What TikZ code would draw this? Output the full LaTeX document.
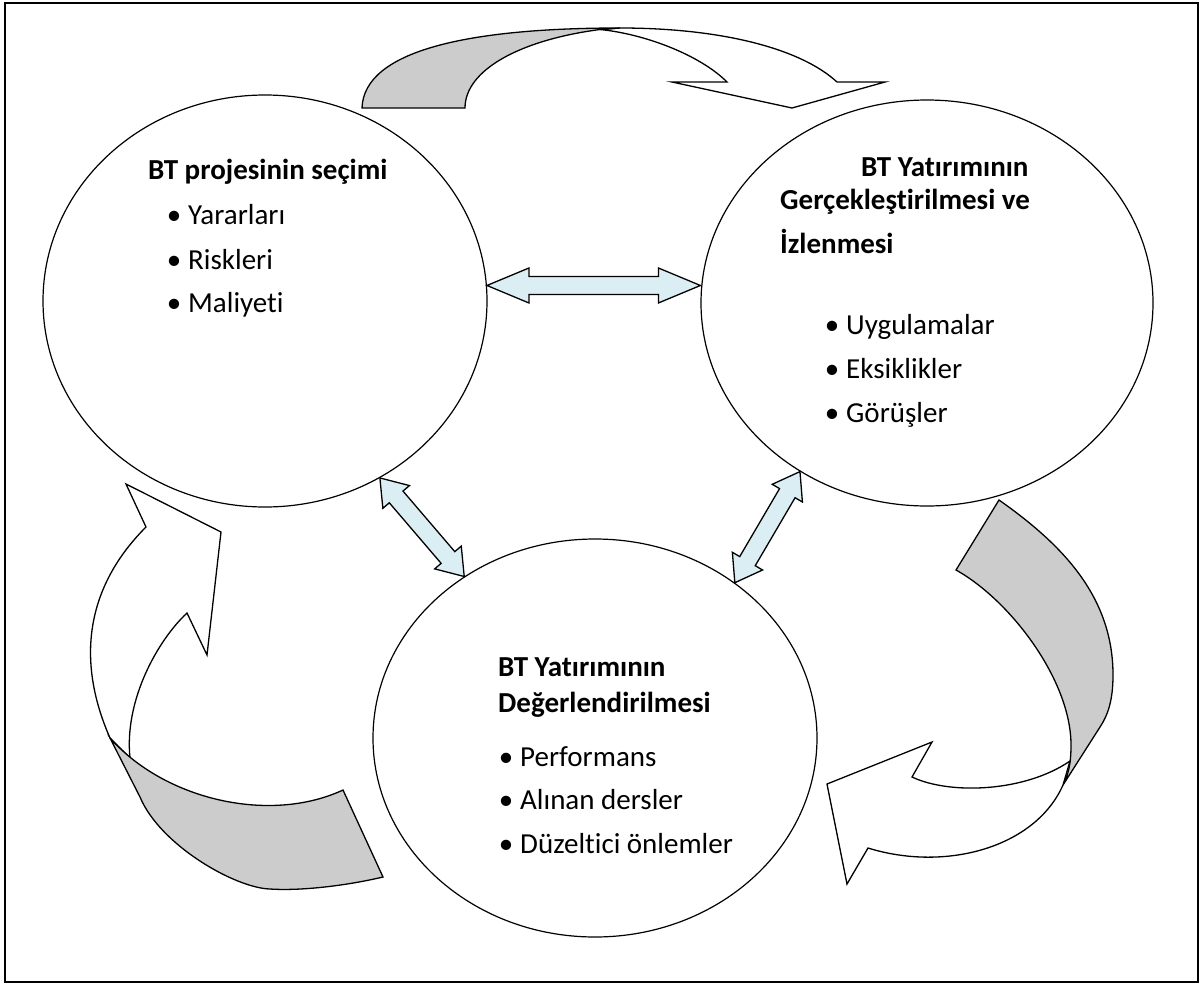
\documentclass[tikz,border=0pt]{standalone}
\usepackage{fontspec}
\setmainfont{Carlito}[Ligatures=NoCommon]
\usetikzlibrary{calc,shapes.geometric}
\definecolor{bandgray}{HTML}{CCCCCC}
\definecolor{linkblue}{HTML}{DAEEF3}

\newcommand{\bul}{\llap{\textbullet\hspace{7pt}}}

% two-headed block arrow between two named points: #1, #2 ends, #3 head length
\newcommand{\twoway}[3]{%
  \coordinate (tw-a) at (#1);
  \coordinate (tw-b) at (#2);
  \coordinate (tw-ha) at ($(tw-a)!#3!(tw-b)$);
  \coordinate (tw-hb) at ($(tw-b)!#3!(tw-a)$);
  \filldraw[linkarrow] (tw-a)
    -- ($(tw-ha)!17.5pt!90:(tw-b)$) -- ($(tw-ha)!9pt!90:(tw-b)$)
    -- ($(tw-hb)!9pt!-90:(tw-a)$) -- ($(tw-hb)!17.5pt!-90:(tw-a)$)
    -- (tw-b)
    -- ($(tw-hb)!17.5pt!90:(tw-a)$) -- ($(tw-hb)!9pt!90:(tw-a)$)
    -- ($(tw-ha)!9pt!-90:(tw-b)$) -- ($(tw-ha)!17.5pt!-90:(tw-b)$)
    -- cycle;}

\tikzset{
  phase/.style={ellipse, draw, line width=1.2pt, inner sep=0pt},
  band/.style={draw, line width=1.3pt, line join=miter, fill=white},
  underside/.style={band, fill=bandgray},
  linkarrow/.style={draw, line width=1.3pt, fill=linkblue, line join=miter},
  heading/.style={font=\bfseries\fontsize{29}{34}\selectfont, anchor=base west, inner sep=0pt},
  item/.style={font=\fontsize{29}{34}\selectfont, anchor=base west, inner sep=0pt}
}

\begin{document}
\begin{tikzpicture}[x=1pt,y=-1pt]
\useasboundingbox (0,0) rectangle (1204,988);
\draw[line width=1.6pt] (5,3) rectangle (1198,982);

% the three phases
\node[phase, minimum width=444pt, minimum height=412pt] (sel) at (265,301) {};
\node[phase, minimum width=452pt, minimum height=406pt] (imp) at (927,303) {};
\node[phase, minimum width=444pt, minimum height=398pt] (eval) at (595,738) {};

% top cycle arrow: front band with head, then its underside
\filldraw[band] (620,28) .. controls (720,28) and (800,48) .. (837,82)
  -- (885,82) -- (792,108) -- (672,82) -- (727,82)
  .. controls (700,55) and (645,34) .. (600,29.5) -- cycle;
\filldraw[underside] (362,108) .. controls (364,50) and (470,28) .. (620,28)
  -- (600,29.5) .. controls (520,40) and (465,70) .. (465,108) -- cycle;

% left cycle arrow
\filldraw[band] (110,738) .. controls (74,656) and (89,584) .. (146,527)
  -- (126,484) -- (221,532) -- (207,655) -- (187,613)
  .. controls (158,640) and (124,700) .. (130,758) -- cycle;
\filldraw[underside] (110,738) .. controls (165,800) and (270,824) .. (343,790)
  -- (383,877) .. controls (345,886) and (300,891) .. (270,889)
  .. controls (235,888) and (160,845) .. (140,797) -- cycle;

% right cycle arrow
\filldraw[underside] (956,570) -- (999,500)
  .. controls (1060,543) and (1113,595) .. (1113,675)
  .. controls (1113,700) and (1108,715) .. (1100,727)
  -- (1063,785)
  .. controls (1068,775) and (1071,765) .. (1071,745)
  .. controls (1071,680) and (1010,600) .. (956,570) -- cycle;
\filldraw[band] (1063,785) .. controls (1035,848) and (945,872) .. (868,848)
  -- (847,884) -- (827,784) -- (932,742) -- (912,777)
  .. controls (950,795) and (1025,792) .. (1070,761) -- cycle;

% links between the phases
\coordinate (l1) at (sel.4);
\coordinate (r1) at (imp.west |- l1);
\twoway{l1}{r1}{42pt}
\twoway{sel.-57}{eval.129}{25pt}
\twoway{imp.-127}{eval.48}{25pt}

% texts
\node[heading] (selT) at (148,179) {BT projesinin seçimi};
\node[item] (selA) at (188,224) {\bul Yararları};
\node[item] (selB) at (188,269) {\bul Riskleri};
\node[item] (selC) at (188,312) {\bul Maliyeti};

\node[heading] (impT1) at (861,176) {BT Yatırımının};
\node[heading] (impT2) at (780,209) {Gerçekleştirilmesi ve};
\node[heading] (impT3) at (780,253) {İzlenmesi};
\node[item] (impA) at (846,334) {\bul Uygulamalar};
\node[item] (impB) at (846,378) {\bul Eksiklikler};
\node[item] (impC) at (846,422) {\bul Görüşler};

\node[heading] (evalT1) at (498,676) {BT Yatırımının};
\node[heading] (evalT2) at (498,712) {Değerlendirilmesi};
\node[item] (evalA) at (520,766) {\bul Performans};
\node[item] (evalB) at (520,809) {\bul Alınan dersler};
\node[item] (evalC) at (520,853) {\bul Düzeltici önlemler};
\end{tikzpicture}
\end{document}
